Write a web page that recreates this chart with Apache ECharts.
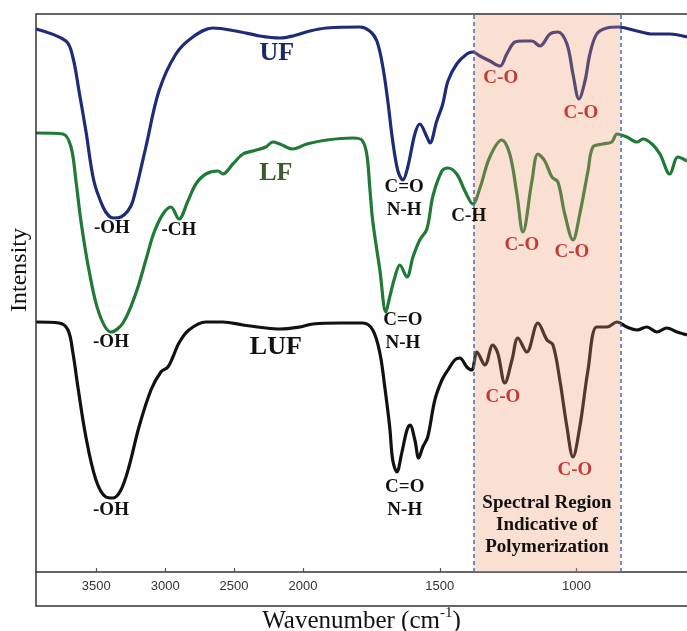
<!DOCTYPE html>
<html>
<head>
<meta charset="utf-8">
<script src="https://cdn.jsdelivr.net/npm/echarts@6/dist/echarts.min.js"></script>
<style>html,body{margin:0;padding:0;background:#fff;}#c{width:687px;height:631px;}</style>
</head>
<body>
<div id="c"></div>
<script>
// ---- Data (wavenumber in cm^-1, intensity in arbitrary units) ----
const ufWave = [3937,3720,3670,3625,3575,3517,3451,3408,3372,3321,3271,3234,3140,3045,2922,2799,2654,2487,2313,2168,2074,1975,1913,1792,1756,1730,1708,1690,1672,1653,1635,1617,1591,1573,1547,1536,1511,1489,1470,1438,1401,1379,1353,1317,1280,1255,1225,1196,1163,1134,1097,1068,1035,1013,991,969,951,926,889,849,779,721,659,596];
const ufIntensity = [54.3,53.1,51.5,48.1,44.1,39.1,36.5,35.6,35.4,35.5,36.1,37.1,42.5,48.1,51.8,53.5,54.4,54.1,53.6,53.4,53.6,54.1,54.4,54.5,54.1,53.1,50.5,47.1,43.1,40.1,39.2,40.5,43.8,44.8,43.5,42.9,45.1,46.8,49.1,50.8,51.8,52.0,51.6,51.1,50.6,51.8,53.0,53.1,53.1,52.6,53.8,54.0,52.8,49.8,47.3,49.1,51.8,53.8,54.4,54.5,54.1,53.8,53.8,53.5];

const lfWave = [3937,3741,3683,3647,3611,3553,3480,3393,3306,3212,3140,3082,3016,2958,2900,2835,2777,2705,2618,2581,2509,2436,2364,2270,2219,2168,2074,1986,1913,1818,1785,1767,1756,1745,1719,1697,1683,1664,1646,1620,1598,1573,1547,1525,1492,1470,1438,1408,1379,1353,1317,1273,1244,1218,1196,1163,1141,1116,1090,1068,1043,1013,988,958,940,904,871,852,816,779,757,724,695,659,629,596];
const lfIntensity = [43.9,43.8,42.5,39.1,35.1,30.2,25.9,24.0,24.9,27.9,31.2,33.9,35.8,36.5,35.3,37.1,38.8,39.8,40.1,39.8,40.8,41.8,42.1,42.5,43.0,42.8,42.3,42.8,43.2,43.4,43.2,41.8,38.5,35.1,30.2,26.0,27.5,29.5,30.7,29.5,31.5,33.2,34.3,37.6,40.1,40.4,39.8,38.1,36.8,38.4,41.5,43.2,41.8,37.8,34.0,39.1,41.8,41.1,39.5,39.0,35.8,33.2,35.8,40.1,42.5,42.8,43.0,43.8,43.5,43.0,43.3,42.8,41.8,39.8,41.5,41.1];

const lufWave = [3937,3770,3705,3669,3633,3575,3502,3430,3379,3321,3263,3190,3103,3031,2980,2944,2900,2828,2705,2581,2436,2270,2168,2023,1964,1865,1781,1745,1719,1701,1683,1672,1657,1639,1620,1609,1591,1577,1562,1544,1518,1492,1470,1445,1427,1401,1383,1364,1335,1306,1288,1262,1236,1214,1182,1141,1108,1086,1061,1035,1013,988,958,926,889,852,816,779,743,706,670,633,596];
const lufIntensity = [25.0,24.9,24.2,21.9,18.5,13.5,9.2,7.5,7.4,8.2,10.5,14.5,18.2,20.0,20.5,21.5,22.9,24.2,25.0,25.0,24.7,24.4,24.3,24.5,24.8,24.9,24.9,24.2,21.9,18.5,14.5,11.2,10.0,11.9,14.2,14.7,13.2,11.4,12.5,13.5,17.2,19.2,20.2,21.2,21.4,20.5,20.2,22.0,20.7,22.7,21.9,18.9,21.2,23.4,22.0,24.9,23.2,22.7,19.2,14.5,11.5,14.5,20.2,24.5,24.5,25.0,24.5,24.2,24.5,24.0,24.4,24.0,23.7];

const xTickLabels = [3500, 3000, 2500, 2000, 1500, 1000];
const regionBounds = [1375, 840];
const waveRange = [596, 3937];
const intensityRange = [0, 55.8];

const annText = ['UF','-OH','C=O\nN-H','C-O','C-O','LF','-OH','-CH','C=O\nN-H','C-H','C-O','C-O','LUF','-OH','C=O\nN-H','C-O','C-O','Spectral Region\nIndicative of\nPolymerization'];
const annWave = [2190,3386,1630,1277,984,2197,3393,2900,1635,1394,1200,1017,2197,3393,1628,1269,1006,1108];
const annValue = [51.9,34.4,37.3,49.4,45.9,39.9,23.0,34.2,24.05,35.6,32.7,32.0,22.5,6.2,7.35,17.5,10.2,4.7];

// ---- Broken wavenumber scale: region above 2000 cm-1 is compressed ----
const BREAK = 2000, RATIO = 0.504;
function T(w) { return w >= BREAK ? BREAK + (w - BREAK) * RATIO : w; }
function invT(t) { return t >= BREAK ? BREAK + (t - BREAK) / RATIO : t; }

function pairs(ws, vs) { return ws.map((w, i) => [T(w), vs[i]]); }

const SERIF = '"Liberation Serif","Times New Roman",serif';

function annStyle(txt) {
  let color = '#111', size = 19;
  if (txt === 'C-O') color = '#c23a36';
  if (txt === 'UF') { color = '#1b2a66'; size = 26; }
  if (txt === 'LF') { color = '#3d5a2a'; size = 26; }
  if (txt === 'LUF') { color = '#111'; size = 26; }
  return { color: color, fontSize: size, fontWeight: 'bold', fontFamily: SERIF, opacity: 1,
           lineHeight: txt.indexOf('Spectral') === 0 ? 22 : 23 };
}

const annData = annText.map((txt, i) => ({
  name: txt,
  value: [T(annWave[i]), annValue[i]],
  label: annStyle(txt)
}));

const lineCommon = { type: 'line', showSymbol: false, smooth: 0.35, z: 2, silent: true };

const chart = echarts.init(document.getElementById('c'), null, { renderer: 'canvas' });
chart.setOption({
  animation: false,
  backgroundColor: '#fff',
  grid: { left: 36, right: 0, top: 14, bottom: 59, outerBoundsMode: 'none', containLabel: false },
  xAxis: {
    type: 'value',
    inverse: true,
    min: T(waveRange[0]),
    max: T(waveRange[1]),
    axisLine: { show: true, lineStyle: { color: '#333', width: 1.5 } },
    axisTick: { show: true, inside: true, length: 4, customValues: xTickLabels.map(T), lineStyle: { color: '#555', width: 1.2 } },
    axisLabel: { customValues: xTickLabels.map(T), margin: 8, color: '#333', fontSize: 13,
                 fontFamily: '"Liberation Sans",Arial,sans-serif',
                 formatter: v => String(Math.round(invT(v))) },
    splitLine: { show: false },
    name: '{a|Wavenumber (cm}{s|-1}{a|)}',
    nameLocation: 'middle',
    nameGap: 34,
    nameTextStyle: {
      rich: {
        a: { fontSize: 25, fontFamily: SERIF, color: '#111', lineHeight: 28, verticalAlign: 'bottom' },
        s: { fontSize: 15, fontFamily: SERIF, color: '#111', lineHeight: 28, verticalAlign: 'top' }
      }
    }
  },
  yAxis: {
    type: 'value',
    min: intensityRange[0],
    max: intensityRange[1],
    axisLine: { show: false }, axisTick: { show: false }, axisLabel: { show: false }, splitLine: { show: false },
    name: 'Intensity',
    nameLocation: 'middle',
    nameRotate: 90,
    nameGap: 4,
    nameTextStyle: { fontSize: 24, fontFamily: SERIF, color: '#111', padding: [0, 0, 0, 46] }
  },
  graphic: [{
    type: 'rect', silent: true, z: 100,
    shape: { x: 36, y: 14, width: 700, height: 592 },
    style: { fill: null, stroke: '#333', lineWidth: 1.5 }
  }],
  series: [
    Object.assign({ name: 'UF', data: pairs(ufWave, ufIntensity), lineStyle: { color: '#1c2c78', width: 3.2 } }, lineCommon),
    Object.assign({ name: 'LF', data: pairs(lfWave, lfIntensity), lineStyle: { color: '#1f7a35', width: 3.2 } }, lineCommon),
    Object.assign({ name: 'LUF', data: pairs(lufWave, lufIntensity), lineStyle: { color: '#111', width: 3.2 } }, lineCommon),
    {
      name: 'region', type: 'line', data: [], z: 3, silent: true,
      markArea: {
        silent: true, z: 3,
        itemStyle: { color: 'rgba(240,150,110,0.30)' },
        data: [[{ xAxis: T(regionBounds[0]) }, { xAxis: T(regionBounds[1]) }]]
      },
      markLine: {
        silent: true, symbol: ['none', 'none'], z: 4,
        label: { show: false },
        lineStyle: { type: [4, 3], color: '#3f6fb5', width: 1.5 },
        data: regionBounds.map(w => ({ xAxis: T(w) }))
      }
    },
    {
      name: 'labels', type: 'scatter', symbolSize: 0, z: 10, silent: true,
      itemStyle: { opacity: 1 },
      label: { show: true, position: 'inside', formatter: '{b}', align: 'center', verticalAlign: 'middle', opacity: 1 },
      data: annData
    }
  ]
});
</script>
</body>
</html>
